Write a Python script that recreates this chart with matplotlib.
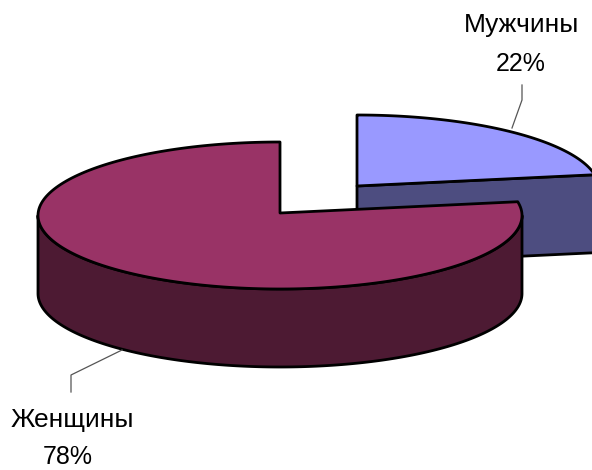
import numpy as np
import matplotlib
matplotlib.use('Agg')
import matplotlib.pyplot as plt
from matplotlib.patches import Polygon

labels = ['Мужчины', 'Женщины']
percents = [22, 78]
top_colors = ['#9999ff', '#993366']
side_colors = ['#4d4d80', '#4d1a33']

# pie geometry in pixels
rx, ry = 242, 73.5
depth = 78
sag = 2.5  # ellipse centre sits a bit under the wedge point
male_apex = (357, 186)
female_apex = (280, 213)

plt.rcParams['font.family'] = ['Liberation Sans', 'DejaVu Sans']

fig = plt.figure(figsize=(5.92, 4.70), dpi=100)
ax = fig.add_axes([0, 0, 1, 1])
ax.set_xlim(0, 592)
ax.set_ylim(470, 0)
ax.axis('off')


def arc(apex, a0, a1, dy=0):
    t = np.radians(np.linspace(a0, a1, 200))
    return np.column_stack([apex[0] + rx * np.cos(t), apex[1] + sag - ry * np.sin(t) + dy])


def poly(pts, color):
    ax.add_patch(Polygon(pts, closed=True, facecolor=color, edgecolor='black', lw=2, joinstyle='round'))


# slices start at 12 o'clock, woman goes anticlockwise, man clockwise
split = 90 + 360 * percents[1] / sum(percents) - 360

# man
end = arc(male_apex, split, split)[0]
poly([male_apex, end, (end[0], end[1] + depth), (male_apex[0], male_apex[1] + depth)], side_colors[0])
poly(np.vstack([[male_apex], arc(male_apex, 90, split)]), top_colors[0])

# woman
rim = arc(female_apex, 180, 360)
poly(np.vstack([rim, arc(female_apex, 360, 180, depth)]), side_colors[1])
poly(np.vstack([[female_apex], arc(female_apex, 90, 360 + split)]), top_colors[1])

# leader lines
ax.plot([512, 522, 522], [128, 100, 85], color='#555555', lw=0.9)
ax.plot([122, 71, 71], [350, 375, 392], color='#555555', lw=0.9)

# labels
ax.text(522, 32, labels[0], fontsize=19, ha='center', va='baseline', color='black')
ax.text(521, 71, '%d%%' % percents[0], fontsize=18, ha='center', va='baseline', color='black')
ax.text(72, 427, labels[1], fontsize=19, ha='center', va='baseline', color='black')
ax.text(68, 464, '%d%%' % percents[1], fontsize=18, ha='center', va='baseline', color='black')

fig.savefig('out.png', dpi=100)
